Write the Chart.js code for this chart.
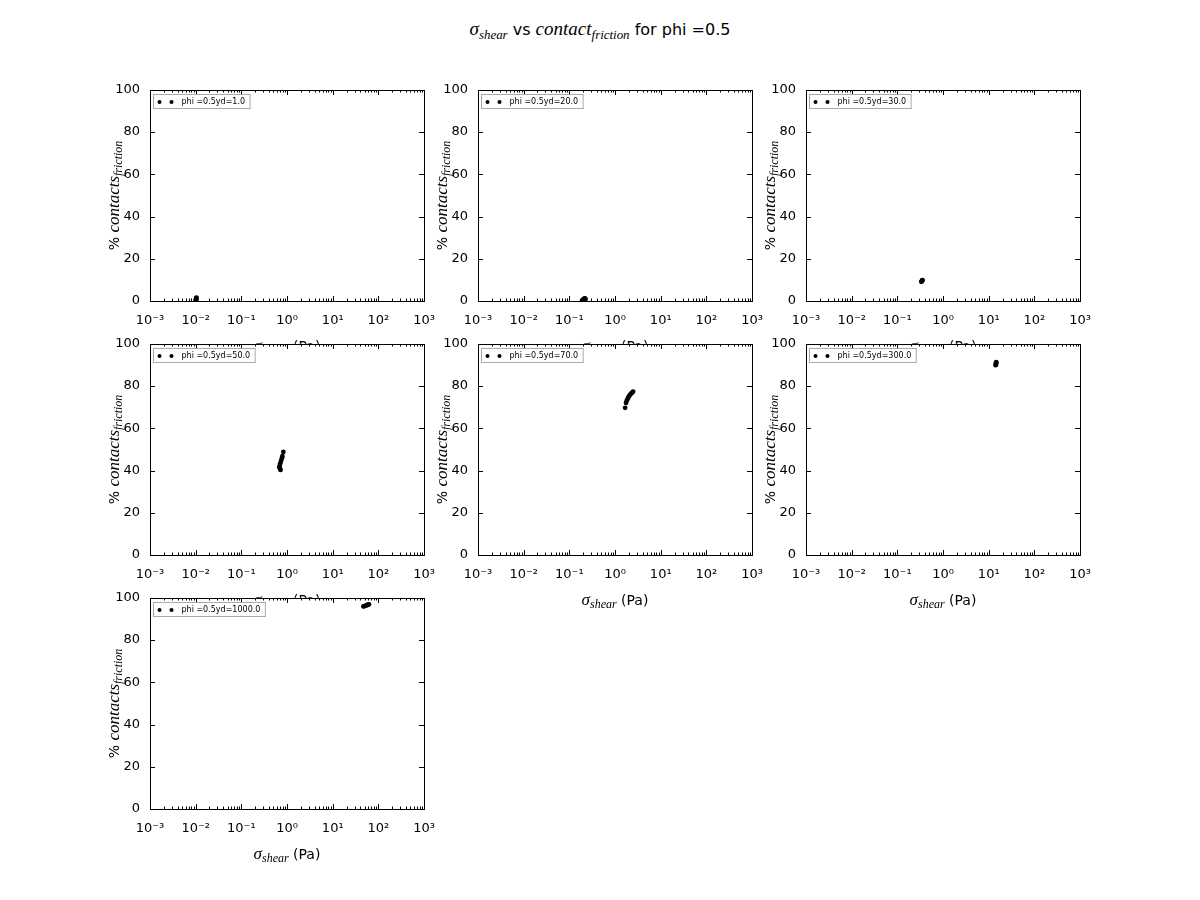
<!DOCTYPE html>
<html><head><meta charset="utf-8">
<script src="https://cdn.jsdelivr.net/npm/chart.js@4.4.0/dist/chart.umd.min.js"></script>
<style>
html,body{margin:0;padding:0;background:#fff;}
body{width:1200px;height:900px;position:relative;overflow:hidden;font-family:"DejaVu Sans",sans-serif;}
#title{position:absolute;top:19px;left:0;width:1200px;text-align:center;font-size:16px;line-height:20px;color:#000;}
#title .m{font-family:"Liberation Serif",serif;font-style:italic;font-size:19px;}
#title sub{font-size:0.68em;vertical-align:-0.3em;line-height:0;}
canvas{position:absolute;}
</style></head><body>
<div id="title"><span class="m">σ<sub>shear</sub></span> vs <span class="m">contact<sub>friction</sub></span> for phi =0.5</div>
<script>
// ---- data ----
const xTickValues = [0.001, 0.01, 0.1, 1, 10, 100, 1000];
const xTickLabels = ['10\u207B\u00B3', '10\u207B\u00B2', '10\u207B\u00B9', '10\u2070', '10\u00B9', '10\u00B2', '10\u00B3'];
const yTickValues = [0, 20, 40, 60, 80, 100];
const panelLabels = ['phi =0.5yd=1.0', 'phi =0.5yd=20.0', 'phi =0.5yd=30.0', 'phi =0.5yd=50.0', 'phi =0.5yd=70.0', 'phi =0.5yd=300.0', 'phi =0.5yd=1000.0'];

const sigma_yd1 = [0.0100, 0.0101, 0.0102, 0.0102, 0.0103, 0.0104];
const contact_yd1 = [0.0, 0.2, 0.5, 0.9, 1.3, 1.6];
const sigma_yd20 = [0.19, 0.20, 0.205, 0.21, 0.215, 0.22, 0.225];
const contact_yd20 = [0.3, 0.6, 0.8, 1.0, 1.1, 1.2, 0.9];
const sigma_yd30 = [0.335, 0.34, 0.345, 0.35, 0.355];
const contact_yd30 = [9.1, 9.3, 9.5, 9.7, 9.9];
const sigma_yd50 = [0.83, 0.79, 0.77, 0.74, 0.71, 0.69, 0.68, 0.70, 0.72];
const contact_yd50 = [48.8, 46.8, 45.8, 44.6, 43.4, 42.3, 41.5, 40.8, 40.3];
const sigma_yd70 = [1.66, 1.74, 1.80, 1.87, 1.95, 2.04, 2.14, 2.26, 2.38, 2.48];
const contact_yd70 = [69.7, 72.0, 73.0, 73.8, 74.6, 75.3, 75.9, 76.5, 77.0, 77.4];
const sigma_yd300 = [14.2, 14.3, 14.4, 14.5, 14.6];
const contact_yd300 = [89.9, 90.3, 90.7, 91.0, 91.3];
const sigma_yd1000 = [47, 50, 53, 56, 59, 62];
const contact_yd1000 = [95.9, 96.1, 96.3, 96.5, 96.7, 96.9];

const sigmaSeries = [sigma_yd1, sigma_yd20, sigma_yd30, sigma_yd50, sigma_yd70, sigma_yd300, sigma_yd1000];
const contactSeries = [contact_yd1, contact_yd20, contact_yd30, contact_yd50, contact_yd70, contact_yd300, contact_yd1000];

// ---- layout ----
const PLOT_W = 274, PLOT_H = 211;
const colLefts = [150, 478, 806];
const rowTops = [90, 344, 598];
const PAD_L = 70, PAD_T = 12, PAD_R = 20, PAD_B = 62;

function drawRich(ctx, parts, x, y) {
  let total = 0;
  parts.forEach(p => { ctx.font = p.font; p.w = ctx.measureText(p.t).width; total += p.w; });
  let cx = x - total / 2;
  ctx.textAlign = 'left';
  ctx.textBaseline = 'alphabetic';
  parts.forEach(p => { ctx.font = p.font; ctx.fillText(p.t, cx, y + (p.dy || 0)); cx += p.w; });
}

const framePlugin = {
  id: 'framePlugin',
  beforeDraw(chart) {
    const { ctx, chartArea: a } = chart;
    ctx.save();
    ctx.fillStyle = '#ffffff';
    ctx.fillRect(a.left, a.top, a.right - a.left, a.bottom - a.top + 1);
    ctx.restore();
  },
  afterDatasetsDraw(chart) {
    const { ctx, chartArea: a, scales } = chart;
    const xs = scales.x, ys = scales.y;
    const L = Math.round(a.left), R = Math.round(a.right), T = Math.round(a.top), B = Math.round(a.bottom);
    ctx.save();
    ctx.strokeStyle = '#000';
    ctx.lineWidth = 1;
    ctx.beginPath();
    xTickValues.forEach((v, i) => {
      const px = Math.round(xs.getPixelForValue(v)) + 0.5;
      ctx.moveTo(px, B); ctx.lineTo(px, B - 5);
      ctx.moveTo(px, T); ctx.lineTo(px, T + 5);
      if (i < xTickValues.length - 1) {
        for (let k = 2; k <= 9; k++) {
          const mx = Math.round(xs.getPixelForValue(v * k)) + 0.5;
          ctx.moveTo(mx, B); ctx.lineTo(mx, B - 2.5);
          ctx.moveTo(mx, T); ctx.lineTo(mx, T + 2.5);
        }
      }
    });
    yTickValues.forEach(v => {
      const py = Math.round(ys.getPixelForValue(v)) + 0.5;
      ctx.moveTo(L, py); ctx.lineTo(L + 5, py);
      ctx.moveTo(R, py); ctx.lineTo(R - 5, py);
    });
    ctx.stroke();
    ctx.strokeRect(L + 0.5, T + 0.5, R - L, B - T);

    // legend
    const label = chart.data.datasets[0].label;
    ctx.font = '8px "DejaVu Sans"';
    const tw = ctx.measureText(label).width;
    const bx = L + 3.5, by = T + 4.5, bw = 29 + tw + 4, bh = 14;
    ctx.fillStyle = '#fff';
    ctx.fillRect(bx, by, bw, bh);
    ctx.strokeStyle = '#aaaaaa';
    ctx.strokeRect(bx, by, bw, bh);
    ctx.fillStyle = '#000';
    [bx + 6, bx + 18].forEach(cx => { ctx.beginPath(); ctx.arc(cx, by + 7.5, 2, 0, Math.PI * 2); ctx.fill(); });
    ctx.textAlign = 'left'; ctx.textBaseline = 'middle';
    ctx.fillText(label, bx + 28, by + 7.5);

    // x axis title
    ctx.fillStyle = '#000';
    drawRich(ctx, [
      { t: '\u03C3', font: 'italic 17px "Liberation Serif"' },
      { t: 'shear', font: 'italic 12px "Liberation Serif"', dy: 3 },
      { t: ' (Pa)', font: '14px "DejaVu Sans"' }
    ], (L + R) / 2, B + 50);

    // y axis title
    ctx.translate(L - 31, (T + B) / 2);
    ctx.rotate(-Math.PI / 2);
    drawRich(ctx, [
      { t: '% ', font: '14px "DejaVu Sans"' },
      { t: 'contacts', font: 'italic 17px "Liberation Serif"' },
      { t: 'friction', font: 'italic 12px "Liberation Serif"', dy: 3 }
    ], 0, 0);
    ctx.restore();
  }
};

Chart.defaults.font.family = '"DejaVu Sans"';
Chart.defaults.color = '#000';

panelLabels.forEach((lab, i) => {
  const row = Math.floor(i / 3), col = i % 3;
  const cv = document.createElement('canvas');
  const W = PAD_L + PLOT_W + PAD_R, H = PAD_T + PLOT_H + PAD_B;
  cv.width = W; cv.height = H;
  cv.style.width = W + 'px'; cv.style.height = H + 'px';
  cv.style.left = (colLefts[col] - PAD_L) + 'px';
  cv.style.top = (rowTops[row] - PAD_T) + 'px';
  document.body.appendChild(cv);
  const pts = sigmaSeries[i].map((s, j) => ({ x: s, y: contactSeries[i][j] }));
  const chart = new Chart(cv, {
    type: 'scatter',
    data: { datasets: [{ label: lab, data: pts, backgroundColor: '#000', borderColor: '#000', pointRadius: 2.4, borderWidth: 0 }] },
    options: {
      responsive: false, maintainAspectRatio: false, animation: false, devicePixelRatio: 1,
      layout: { padding: { left: 0, top: PAD_T, right: PAD_R, bottom: 0 } },
      plugins: { legend: { display: false }, tooltip: { enabled: false }, title: { display: false } },
      scales: {
        x: {
          type: 'logarithmic', min: 0.001, max: 1000,
          grid: { display: false, drawTicks: false }, border: { display: false },
          afterBuildTicks: s => { s.ticks = xTickValues.map(v => ({ value: v })); },
          afterFit: s => { s.height = PAD_B; },
          ticks: {
            autoSkip: false, maxRotation: 0, padding: 12, color: '#000',
            font: { size: 13, family: '"DejaVu Sans"' },
            callback: v => { const k = xTickValues.indexOf(v); return k >= 0 ? xTickLabels[k] : ''; }
          }
        },
        y: {
          min: 0, max: 100,
          grid: { display: false, drawTicks: false }, border: { display: false },
          afterBuildTicks: s => { s.ticks = yTickValues.map(v => ({ value: v })); },
          afterFit: s => { s.width = PAD_L; },
          ticks: { padding: 10, color: '#000', font: { size: 13, family: '"DejaVu Sans"' }, callback: v => String(v) }
        }
      }
    },
    plugins: [framePlugin]
  });
  let a = chart.chartArea;
  let newW = W, newH = H;
  for (let iter = 0; iter < 3; iter++) {
    const w = a.right - a.left, h = a.bottom - a.top;
    if (Math.abs(w - PLOT_W) < 0.01 && Math.abs(h - PLOT_H) < 0.01) break;
    newW = Math.round(newW + PLOT_W - w);
    newH = Math.round(newH + PLOT_H - h);
    chart.resize(newW, newH);
    a = chart.chartArea;
  }
  cv.style.left = (colLefts[col] - Math.round(a.left)) + 'px';
  cv.style.top = (rowTops[row] - Math.round(a.top)) + 'px';
});
</script>
</body></html>
